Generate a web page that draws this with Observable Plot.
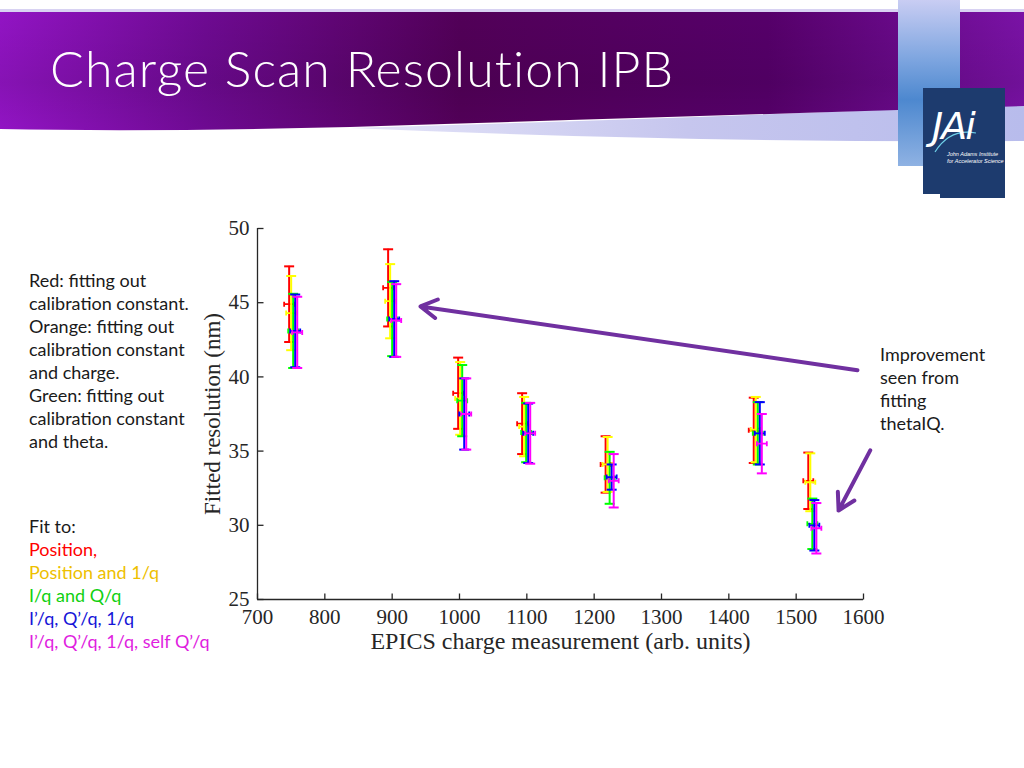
<!DOCTYPE html>
<html><head><meta charset="utf-8">
<script src="https://cdn.jsdelivr.net/npm/d3@7"></script>
<script src="https://cdn.jsdelivr.net/npm/@observablehq/plot@0.6"></script>
<style>
html,body{margin:0;padding:0;}
body{width:1024px;height:768px;overflow:hidden;background:#fff;position:relative;font-family:Lato,"Open Sans",sans-serif;}
#deco{position:absolute;left:0;top:0;}
#title{position:absolute;left:50px;top:38px;color:#fff;font-family:Lato,sans-serif;font-weight:300;font-size:50px;white-space:nowrap;letter-spacing:1.1px;}
#chart{position:absolute;left:195px;top:205px;}
.txt{position:absolute;font-size:18px;line-height:23px;color:#1a1a1a;white-space:nowrap;}
#logo1{position:absolute;left:932px;top:104px;color:#fff;font-family:"DejaVu Sans",sans-serif;font-style:italic;font-weight:200;font-size:38px;letter-spacing:-2px;}
#logo2{position:absolute;left:947px;top:151px;color:#fff;font-family:"Liberation Sans Narrow","Liberation Sans",sans-serif;font-style:italic;font-size:5.5px;line-height:7px;white-space:nowrap;}
</style></head><body>
<svg id="deco" width="1024" height="210">
  <defs>
    <linearGradient id="gp" x1="0" x2="1" y1="0" y2="0">
      <stop offset="0" stop-color="#9214c4"/>
      <stop offset="0.2" stop-color="#6e0a92"/>
      <stop offset="0.45" stop-color="#520058"/>
      <stop offset="0.75" stop-color="#56006a"/>
      <stop offset="1" stop-color="#7a12a6"/>
    </linearGradient>
    <linearGradient id="gv" x1="0" x2="0" y1="0" y2="1">
      <stop offset="0" stop-color="#000" stop-opacity="0"/>
      <stop offset="0.6" stop-color="#000" stop-opacity="0.08"/>
      <stop offset="1" stop-color="#000" stop-opacity="0.0"/>
    </linearGradient>
    <linearGradient id="gl" x1="0" x2="1" y1="0" y2="0">
      <stop offset="0" stop-color="#e4e4f8"/>
      <stop offset="0.5" stop-color="#c6c6ee"/>
      <stop offset="1" stop-color="#b8bcec"/>
    </linearGradient>
    <linearGradient id="gb" x1="0" x2="0" y1="0" y2="1">
      <stop offset="0" stop-color="#c9cdf3"/>
      <stop offset="0.35" stop-color="#7fa6e0"/>
      <stop offset="0.6" stop-color="#4d88cf"/>
      <stop offset="1" stop-color="#8fb2e3"/>
    </linearGradient>
  </defs>
  <rect x="0" y="9" width="1024" height="4" fill="#d8d2f2"/>
  <path d="M350,128 Q700,118 1024,104 L1024,141 Q700,143 350,128 Z" fill="url(#gl)"/>
  <path d="M0,12 H1024 V106 Q640,118 350,127 Q150,132 0,129 Z" fill="url(#gp)"/>
  <path d="M0,12 H1024 V106 Q640,118 350,127 Q150,132 0,129 Z" fill="url(#gv)"/>
  <rect x="898" y="0" width="62" height="166" fill="url(#gb)"/>
  <rect x="923" y="88" width="82" height="106" fill="#1d3b6e"/>
  <rect x="940" y="188" width="65" height="10" fill="#1d3b6e"/>
  <path d="M935,152 Q950,128 976,133" stroke="#6fd0e8" stroke-width="1.2" fill="none"/>
</svg>
<div id="title">Charge Scan Resolution IPB</div>
<div id="logo1">JAi</div>
<div id="logo2">John Adams Institute<br>for Accelerator Science</div>
<div id="chart"></div>
<div class="txt" style="left:29px;top:269px;">Red: fitting out<br>calibration constant.<br>Orange: fitting out<br>calibration constant<br>and charge.<br>Green: fitting out<br>calibration constant<br>and theta.</div>
<div class="txt" style="left:29px;top:515px;">Fit to:<br><span style="color:#ff0000">Position,</span><br><span style="color:#eec000">Position and 1/q</span><br><span style="color:#10d010">I/q and Q/q</span><br><span style="color:#1515d8">I’/q, Q’/q, 1/q</span><br><span style="color:#e01ee0">I’/q, Q’/q, 1/q, self Q’/q</span></div>
<div class="txt" style="left:880px;top:343px;">Improvement<br>seen from<br>fitting<br>thetaIQ.</div>
<script>
// ---- data ----
const series = ["Position", "Position and 1/q", "I/q and Q/q", "I’/q, Q’/q, 1/q", "I’/q, Q’/q, 1/q, self Q’/q"];
const colors = ["#ff0000", "#ffff00", "#00ff00", "#0000ff", "#ff00ff"];

const chargeRed     = [747, 894, 998, 1093, 1217, 1437, 1518];
const chargeYellow  = [750, 897, 1001, 1096, 1220, 1440, 1521];
const chargeGreen   = [753, 900, 1004, 1099, 1223, 1443, 1524];
const chargeBlue    = [756, 903, 1007, 1102, 1226, 1446, 1527];
const chargeMagenta = [759, 906, 1010, 1105, 1229, 1449, 1530];

const resRed     = [44.9, 46.0, 38.9, 36.85, 34.1, 36.4, 33.0];
const resYellow  = [44.3, 45.1, 38.55, 36.65, 34.1, 36.45, 32.9];
const resGreen   = [43.1, 43.9, 38.4, 36.25, 33.2, 36.2, 30.1];
const resBlue    = [43.1, 43.9, 37.5, 36.2, 33.25, 36.2, 30.0];
const resMagenta = [43.0, 43.8, 37.5, 36.2, 33.0, 35.5, 29.8];

const errRed     = [2.55, 2.6, 2.4, 2.05, 1.9, 2.2, 1.9];
const errYellow  = [2.5, 2.5, 2.45, 2.0, 1.85, 2.2, 1.95];
const errGreen   = [2.5, 2.5, 2.4, 2.0, 1.75, 2.1, 1.7];
const errBlue    = [2.45, 2.55, 2.4, 2.0, 0.85, 2.1, 1.7];
const errMagenta = [2.4, 2.45, 2.4, 2.05, 1.8, 2.0, 1.7];

const xTicks = [700, 800, 900, 1000, 1100, 1200, 1300, 1400, 1500, 1600];
const yTicks = [25, 30, 35, 40, 45, 50];

// annotation arrows (data coordinates)
const arrowX1 = [1591, 1610];
const arrowY1 = [40.45, 35.05];
const arrowX2 = [942, 1563];
const arrowY2 = [44.75, 31.0];

// ---- build tables ----
const charges = [chargeRed, chargeYellow, chargeGreen, chargeBlue, chargeMagenta];
const res = [resRed, resYellow, resGreen, resBlue, resMagenta];
const errs = [errRed, errYellow, errGreen, errBlue, errMagenta];
const tables = series.map((s, i) => charges[i].map((c, j) => ({
  series: s, x: c, y: res[i][j], lo: res[i][j] - errs[i][j], hi: res[i][j] + errs[i][j]
})));
const arrows = arrowX1.map((x, i) => ({x1: x, y1: arrowY1[i], x2: arrowX2[i], y2: arrowY2[i]}));

const capSym = {draw(ctx) { ctx.moveTo(-5, 0); ctx.lineTo(5, 0); }};
const midSym = {draw(ctx) {
  ctx.moveTo(-5, 0); ctx.lineTo(5, 0);
  ctx.moveTo(-5, -2.5); ctx.lineTo(-5, 2.5);
  ctx.moveTo(5, -2.5); ctx.lineTo(5, 2.5);
}};
const yTickSym = {draw(ctx) { ctx.moveTo(0, 0); ctx.lineTo(6, 0); }};
const xTickSym = {draw(ctx) { ctx.moveTo(0, 0); ctx.lineTo(0, -6); }};

const marks = [];
tables.forEach((t, i) => {
  const c = colors[i];
  marks.push(Plot.ruleX(t, {x: "x", y1: "lo", y2: "hi", stroke: c, strokeWidth: 2}));
  marks.push(Plot.dot(t, {x: "x", y: "hi", symbol: capSym, stroke: c, strokeWidth: 2, fill: "none"}));
  marks.push(Plot.dot(t, {x: "x", y: "lo", symbol: capSym, stroke: c, strokeWidth: 2, fill: "none"}));
  marks.push(Plot.dot(t, {x: "x", y: "y", symbol: midSym, stroke: c, strokeWidth: 1.8, fill: "none"}));
});

const plot = Plot.plot({
  width: 705, height: 460,
  marginLeft: 62, marginRight: 37, marginTop: 23, marginBottom: 66,
  style: {fontFamily: "'Liberation Serif', serif", fontSize: "21px", color: "#262626", background: "transparent", overflow: "visible"},
  x: {domain: [700, 1600]},
  y: {domain: [25, 50]},
  marks: [
    Plot.axisY({ticks: yTicks, tickSize: 0, tickPadding: 8, label: null, fontSize: 21}),
    Plot.axisY({ticks: [], label: "Fitted resolution (nm)", labelAnchor: "center", labelArrow: "none", labelOffset: 54, fontSize: 23}),
    Plot.axisX({ticks: xTicks, tickSize: 0, tickPadding: 10, tickFormat: d => String(d), label: null, fontSize: 21}),
    Plot.axisX({ticks: [], label: "EPICS charge measurement (arb. units)", labelAnchor: "center", labelArrow: "none", labelOffset: 49, fontSize: 24}),
    Plot.ruleX([700], {y1: 25, y2: 50, stroke: "#262626", strokeWidth: 1.3}),
    Plot.ruleY([25], {x1: 700, x2: 1600, stroke: "#262626", strokeWidth: 1.3}),
    Plot.dot(yTicks, {x: 700, y: d => d, symbol: yTickSym, stroke: "#262626", strokeWidth: 1.3}),
    Plot.dot(xTicks, {x: d => d, y: 25, symbol: xTickSym, stroke: "#262626", strokeWidth: 1.3}),
    ...marks,
    Plot.arrow(arrows, {x1: "x1", y1: "y1", x2: "x2", y2: "y2", stroke: "#7030a0", strokeWidth: 4, headLength: 7, clip: false})
  ]
});
document.getElementById("chart").appendChild(plot);
</script>
</body></html>
